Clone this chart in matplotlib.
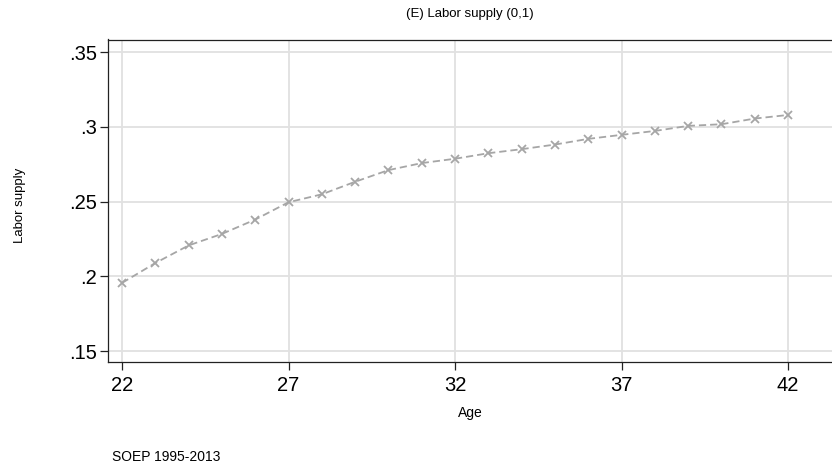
import matplotlib
matplotlib.use("Agg")
import matplotlib.pyplot as plt

plt.rcParams["font.family"] = ["Liberation Sans", "DejaVu Sans"]

age = list(range(22, 43))
labor_supply = [0.1956, 0.2089, 0.2207, 0.2284, 0.2380, 0.2496, 0.2549,
                0.2633, 0.2711, 0.2758, 0.2787, 0.2824, 0.2851, 0.2882,
                0.2920, 0.2947, 0.2973, 0.3007, 0.3018, 0.3056, 0.3080]
xticks = [22, 27, 32, 37, 42]
yticks = [0.15, 0.2, 0.25, 0.3, 0.35]
ytick_labels = [".15", ".2", ".25", ".3", ".35"]

fig = plt.figure(figsize=(8.32, 4.67), dpi=100)
ax = fig.add_axes([108 / 832, 1 - 362 / 467, 1 - 108 / 832, (362 - 39.5) / 467])

ax.plot(age, labor_supply, color="#a6a6a6", linestyle=(0, (4, 2.2)), linewidth=1.3,
        marker="x", markersize=6, markeredgewidth=1.3, zorder=3)

ax.set_xlim(21.58, 43.32)
ax.set_ylim(0.1427, 0.3585)
ax.set_xticks(xticks)
ax.set_xticklabels([str(t) for t in xticks])
ax.set_yticks(yticks)
ax.set_yticklabels(ytick_labels)
ax.grid(True, color="#e1e1e1", linewidth=1.3)
ax.set_axisbelow(True)

ax.tick_params(axis="both", direction="out", length=6, width=0.9, color="#222222",
               labelsize=14.5, pad=2)
ax.tick_params(axis="x", pad=4)
for side in ["left", "bottom", "top"]:
    ax.spines[side].set_color("#222222")
    ax.spines[side].set_linewidth(0.9)
ax.spines["right"].set_visible(False)

fig.text(470 / 832, 1 - 14 / 467, "(E) Labor supply (0,1)", ha="center", va="center",
         fontsize=9.5)
fig.text(470 / 832, 1 - 413 / 467, "Age", ha="center", va="center", fontsize=10)
fig.text(20 / 832, 1 - 205 / 467, "Labor supply", ha="center", va="center",
         rotation=90, fontsize=9.5)
fig.text(112 / 832, 1 - 457 / 467, "SOEP 1995-2013", ha="left", va="center",
         fontsize=10)

fig.savefig("out.png", dpi=100)
